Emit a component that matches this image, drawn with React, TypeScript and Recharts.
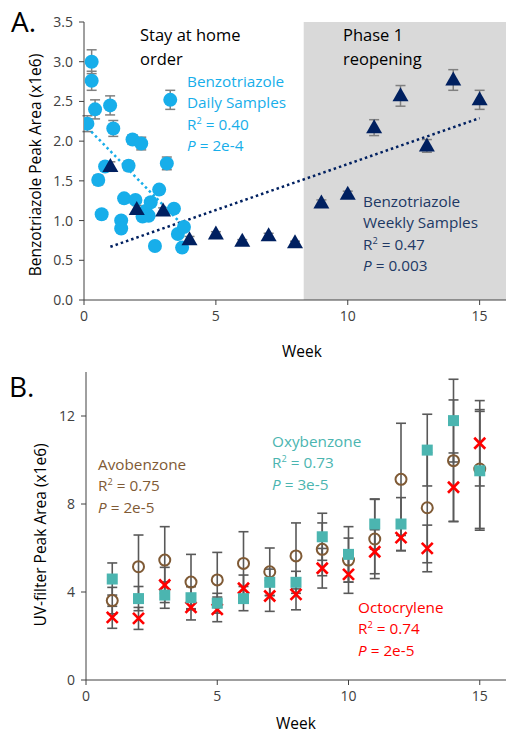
import React from 'react';
import { ScatterChart, Scatter, XAxis, YAxis, ErrorBar, ReferenceArea } from 'recharts';

const FONT = '"Open Sans", sans-serif';
const INK = '#404040';
const DAILY = '#17AEEA';
const WEEKLY = '#002060';
const WEEKLY_TXT = '#203864';
const OXY = '#4BB5B0';
const AVO = '#7F5A35';
const OCTO = '#FF0000';

// Panel A: benzotriazole, daily samples (week, peak area x1e6, error)
const dailyWeek = [0.13, 0.29, 0.29, 0.42, 0.54, 0.67, 0.8, 0.99, 1.11, 1.41, 1.41, 1.52, 1.69, 1.84, 1.95, 2.17, 2.22, 2.34, 2.45, 2.53, 2.69, 2.85, 3.14, 3.27, 3.41, 3.56, 3.72, 3.79];
const dailyVal = [2.22, 3.0, 2.76, 2.4, 1.51, 1.08, 1.68, 2.45, 2.16, 1.0, 0.9, 1.28, 1.69, 2.02, 1.26, 1.97, 1.05, 1.12, 1.06, 1.23, 0.68, 1.39, 1.72, 2.52, 1.15, 0.83, 0.66, 0.92];
const dailyErr = [0.1, 0.15, 0.12, 0.12, 0.06, 0.03, 0.05, 0.12, 0.1, 0.03, 0.03, 0.04, 0.06, 0.06, 0.03, 0.08, 0.03, 0.03, 0.03, 0.04, 0.02, 0.05, 0.08, 0.12, 0.03, 0.03, 0.02, 0.03];

// Panel A: benzotriazole, weekly samples
const weeklyWeek = [1, 2, 3, 4, 5, 6, 7, 8, 9, 10, 11, 12, 13, 14, 15];
const weeklyVal = [1.68, 1.14, 1.12, 0.76, 0.83, 0.74, 0.81, 0.72, 1.22, 1.33, 2.17, 2.57, 1.94, 2.77, 2.52];
const weeklyErr = [0.06, 0.05, 0.04, 0.04, 0.03, 0.02, 0.03, 0.02, 0.04, 0.04, 0.1, 0.13, 0.08, 0.13, 0.12];

// linear fits (end points)
const dailyFitWeek = [0.13, 3.75];
const dailyFitVal = [2.17, 0.94];
const weeklyFitWeek = [1, 15];
const weeklyFitVal = [0.67, 2.29];

// Panel B: UV filters by week
const weeks = [1, 2, 3, 4, 5, 6, 7, 8, 9, 10, 11, 12, 13, 14, 15];
const oxyVal = [4.59, 3.7, 3.86, 3.74, 3.49, 3.7, 4.44, 4.44, 6.51, 5.71, 7.09, 7.09, 10.45, 11.79, 9.51];
const oxyErr = [0.73, 0.55, 0.6, 0.5, 0.45, 0.55, 0.6, 0.5, 1.07, 1.26, 1.14, 1.2, 1.63, 1.88, 2.7];
const avoVal = [3.61, 5.15, 5.45, 4.45, 4.55, 5.3, 4.92, 5.64, 5.94, 5.45, 6.41, 9.12, 7.83, 9.97, 9.59];
const avoErr = [0.6, 1.44, 1.52, 1.26, 1.25, 1.44, 1.08, 1.5, 1.2, 1.0, 1.8, 2.55, 2.5, 2.76, 2.7];
const octoVal = [2.85, 2.8, 4.32, 3.3, 3.21, 4.17, 3.82, 3.89, 5.08, 4.8, 5.83, 6.47, 5.98, 8.76, 10.76];
const octoErr = [0.5, 0.5, 0.8, 0.57, 0.56, 0.6, 0.7, 0.7, 0.9, 0.86, 1.0, 0.6, 1.06, 1.56, 1.94];

const zip = (xs: number[], ys: number[], es?: number[]) =>
  xs.map((x, i) => ({ x, y: ys[i], e: es ? es[i] : 0 }));

const tickStyle = { fontSize: 14, fill: INK, fontFamily: FONT };

const dot = (color: string) => (p: any) => <circle cx={p.cx} cy={p.cy} r={7} fill={color} />;
const tri = (color: string) => (p: any) => (
  <path d={`M${p.cx},${p.cy - 8.5}L${p.cx + 8},${p.cy + 5.5}L${p.cx - 8},${p.cy + 5.5}Z`} fill={color} />
);
const square = (color: string) => (p: any) => (
  <rect x={p.cx - 5.5} y={p.cy - 5.5} width={11} height={11} fill={color} />
);
const ring = (color: string) => (p: any) => (
  <circle cx={p.cx} cy={p.cy} r={5.5} fill="none" stroke={color} strokeWidth={2} />
);
const cross = (color: string) => (p: any) => (
  <g stroke={color} strokeWidth={2.6}>
    <line x1={p.cx - 5.5} y1={p.cy - 5.5} x2={p.cx + 5.5} y2={p.cy + 5.5} />
    <line x1={p.cx - 5.5} y1={p.cy + 5.5} x2={p.cx + 5.5} y2={p.cy - 5.5} />
  </g>
);
const none = () => <g />;

function Txt({ x, y, lh = 21.3, size = 15, color = '#000', lines }: {
  x: number; y: number; lh?: number; size?: number; color?: string; lines: React.ReactNode[];
}) {
  return (
    <div style={{ position: 'absolute', left: x, top: y, color, fontSize: size, lineHeight: `${lh}px`, whiteSpace: 'nowrap' }}>
      {lines.map((l, i) => <div key={i}>{l}</div>)}
    </div>
  );
}

const r2 = (v: string) => <>R<sup style={{ fontSize: '0.6em', lineHeight: 0 }}>2</sup> = {v}</>;
const pv = (v: string) => <><i>P</i> = {v}</>;

function Rotated({ cx, cy, children }: { cx: number; cy: number; children: React.ReactNode }) {
  return (
    <div style={{
      position: 'absolute', left: cx, top: cy, transform: 'translate(-50%, -50%) rotate(-90deg)',
      fontSize: 15.5, color: '#000', whiteSpace: 'nowrap',
    }}>{children}</div>
  );
}

function PanelA() {
  return (
    <ScatterChart width={506} height={340} margin={{ top: 22, right: 0, bottom: 0, left: 0 }}>
      <XAxis type="number" dataKey="x" domain={[0, 16]} ticks={[0, 5, 10, 15]} tickSize={5} tickMargin={6}
        tick={tickStyle} axisLine={{ stroke: INK }} tickLine={{ stroke: INK }} height={40} allowDataOverflow />
      <YAxis type="number" dataKey="y" domain={[0, 3.5]} ticks={[0, 0.5, 1, 1.5, 2, 2.5, 3, 3.5]}
        tickFormatter={(v: number) => v.toFixed(1)} tickSize={5} tickMargin={6}
        tick={tickStyle} axisLine={{ stroke: INK }} tickLine={{ stroke: INK }} width={84} allowDataOverflow />
      <ReferenceArea x1={8.33} x2={16} y1={0} y2={3.5} fill="#D9D9D9" fillOpacity={1} stroke="none" />
      <Scatter data={zip(weeklyFitWeek, weeklyFitVal)} shape={none} isAnimationActive={false}
        line={{ stroke: WEEKLY, strokeWidth: 2.5, strokeDasharray: '2.5 3' }} />
      <Scatter data={zip(dailyFitWeek, dailyFitVal)} shape={none} isAnimationActive={false}
        line={{ stroke: DAILY, strokeWidth: 2.5, strokeDasharray: '2.5 3' }} />
      <Scatter data={zip(dailyWeek, dailyVal, dailyErr)} shape={dot(DAILY)} isAnimationActive={false}>
        <ErrorBar dataKey="e" direction="y" width={5} stroke="#808080" strokeWidth={1.5} />
      </Scatter>
      <Scatter data={zip(weeklyWeek, weeklyVal, weeklyErr)} shape={tri(WEEKLY)} isAnimationActive={false}>
        <ErrorBar dataKey="e" direction="y" width={5} stroke="#808080" strokeWidth={1.5} />
      </Scatter>
    </ScatterChart>
  );
}

function PanelB() {
  const bar = { direction: 'y' as const, width: 5, stroke: '#595959', strokeWidth: 1.6 };
  return (
    <ScatterChart width={506} height={375} margin={{ top: 27, right: 0, bottom: 0, left: 0 }}>
      <XAxis type="number" dataKey="x" domain={[0, 16]} ticks={[0, 5, 10, 15]} tickSize={5} tickMargin={6}
        tick={tickStyle} axisLine={{ stroke: INK }} tickLine={{ stroke: INK }} height={40} allowDataOverflow />
      <YAxis type="number" dataKey="y" domain={[0, 14]} ticks={[0, 4, 8, 12]} tickSize={5} tickMargin={6}
        tick={tickStyle} axisLine={{ stroke: INK }} tickLine={{ stroke: INK }} width={86} allowDataOverflow />
      <Scatter data={zip(weeks, avoVal, avoErr)} shape={ring(AVO)} isAnimationActive={false}>
        <ErrorBar dataKey="e" {...bar} />
      </Scatter>
      <Scatter data={zip(weeks, octoVal, octoErr)} shape={cross(OCTO)} isAnimationActive={false}>
        <ErrorBar dataKey="e" {...bar} />
      </Scatter>
      <Scatter data={zip(weeks, oxyVal, oxyErr)} shape={square(OXY)} isAnimationActive={false}>
        <ErrorBar dataKey="e" {...bar} />
      </Scatter>
    </ScatterChart>
  );
}

export default function App() {
  return (
    <div style={{ position: 'absolute', left: 0, top: 0, width: 506, height: 733, fontFamily: FONT, background: '#fff', overflow: 'hidden' }}>
      <div style={{ position: 'absolute', left: 0, top: 0 }}><PanelA /></div>
      <div style={{ position: 'absolute', left: 0, top: 345 }}><PanelB /></div>

      <div style={{ position: 'absolute', left: 11, top: 2, fontSize: 28 }}>A.</div>
      <Rotated cx={35} cy={165}>Benzotriazole Peak Area (x1e6)</Rotated>
      <div style={{ position: 'absolute', left: 302, top: 351, transform: 'translate(-50%, -50%)', fontSize: 15.5, lineHeight: '18px' }}>Week</div>
      <Txt x={140} y={23} lh={24} size={16.5} lines={['Stay at home', 'order']} />
      <Txt x={343} y={23} lh={24} size={16.5} lines={['Phase 1', 'reopening']} />
      <Txt x={187} y={71} size={15.3} color={DAILY} lines={['Benzotriazole', 'Daily Samples', r2('0.40'), pv('2e-4')]} />
      <Txt x={363} y={191} size={15.3} color={WEEKLY_TXT} lines={['Benzotriazole', 'Weekly Samples', r2('0.47'), pv('0.003')]} />

      <div style={{ position: 'absolute', left: 9, top: 367, fontSize: 28 }}>B.</div>
      <Rotated cx={40} cy={535}>UV-filter Peak Area (x1e6)</Rotated>
      <div style={{ position: 'absolute', left: 296, top: 723, transform: 'translate(-50%, -50%)', fontSize: 15.5, lineHeight: '18px' }}>Week</div>
      <Txt x={98} y={454} size={15.3} color={AVO} lines={['Avobenzone', r2('0.75'), pv('2e-5')]} />
      <Txt x={272} y={431} size={15.3} color={OXY} lines={['Oxybenzone', r2('0.73'), pv('3e-5')]} />
      <Txt x={358} y={597} size={15.3} color={OCTO} lines={['Octocrylene', r2('0.74'), pv('2e-5')]} />
    </div>
  );
}
